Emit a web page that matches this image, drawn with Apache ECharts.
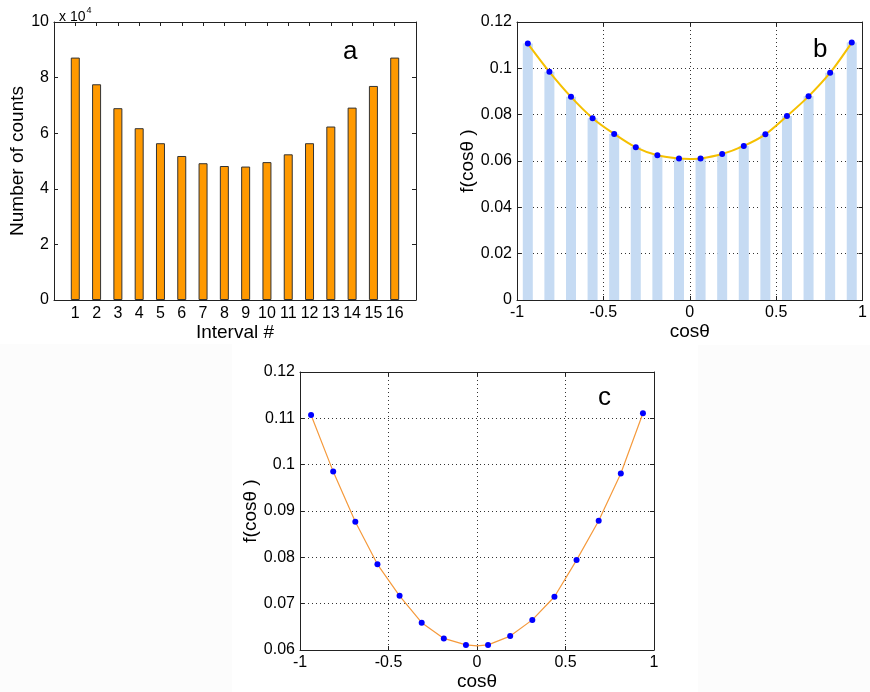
<!DOCTYPE html>
<html>
<head>
<meta charset="utf-8">
<script src="https://cdn.jsdelivr.net/npm/echarts@6/dist/echarts.min.js"></script>
<style>html,body{margin:0;padding:0;background:#fff;}#main{width:870px;height:692px;}</style>
</head>
<body>
<div id="main"></div>
<script>
// Panel a: counts per interval
const intervals = [1,2,3,4,5,6,7,8,9,10,11,12,13,14,15,16];
const counts = [87200, 77600, 69000, 61800, 56400, 51800, 49200, 48200, 48000, 49600, 52400, 56400, 62400, 69200, 77000, 87200];
// Panels b, c: normalized distribution
const cosCenters = [-0.9375,-0.8125,-0.6875,-0.5625,-0.4375,-0.3125,-0.1875,-0.0625,0.0625,0.1875,0.3125,0.4375,0.5625,0.6875,0.8125,0.9375];
const fValues = [0.1107,0.0985,0.0877,0.0785,0.0717,0.0659,0.0625,0.0611,0.0611,0.0630,0.0665,0.0715,0.0794,0.0879,0.0981,0.1111];
// fitted curve
const fitCos = [-0.9375,-0.8125,-0.6875,-0.5625,-0.4375,-0.3125,-0.1875,-0.0625,0,0.0625,0.1875,0.3125,0.4375,0.5625,0.6875,0.8125,0.9375];
const fitF = [0.1107,0.0985,0.0877,0.0785,0.0717,0.0659,0.0625,0.0611,0.0609,0.0611,0.0630,0.0665,0.0715,0.0794,0.0879,0.0981,0.1111];

const FONT = 'Liberation Sans, Arial, Helvetica, sans-serif';
const axisCol = '#222';
const tickFont = {fontFamily: FONT, fontSize: 16, color: '#000'};
const nameFont = {fontFamily: FONT, fontSize: 19, color: '#000'};

function pairs(xs, ys){ return xs.map((x,i)=>[x, ys[i]]); }

function boxAxis(grid, pos, min, max, interval){
  return {
    type: 'value', gridIndex: grid, position: pos, min: min, max: max, interval: interval,
    axisLine: {show: true, onZero: false, lineStyle: {color: axisCol, width: 1}},
    axisTick: {show: true, inside: true, length: 4, lineStyle: {color: axisCol}},
    axisLabel: {show: false},
    splitLine: {show: false}
  };
}

const gridLineStyle = {show: true, lineStyle: {type: [1, 3], color: '#333', width: 1}};

const option = {
  backgroundColor: '#fff',
  animation: false,
  graphic: [
    {type: 'rect', z: -10, silent: true, shape: {x: 0, y: 344, width: 232, height: 348}, style: {fill: '#fcfcfc'}},
    {type: 'rect', z: -10, silent: true, shape: {x: 698, y: 345, width: 172, height: 347}, style: {fill: '#fcfcfc'}}
  ],
  title: [
    {text: 'a', left: 338, top: 34, textStyle: {fontFamily: FONT, fontSize: 26, fontWeight: 'normal', color: '#000'}},
    {text: 'b', left: 808, top: 32, textStyle: {fontFamily: FONT, fontSize: 26, fontWeight: 'normal', color: '#000'}},
    {text: 'c', left: 593, top: 380, textStyle: {fontFamily: FONT, fontSize: 26, fontWeight: 'normal', color: '#000'}},
    {text: '{m|x 10}{e|4}', left: 54, top: 1, textStyle: {fontWeight: 'normal', rich: {
      m: {fontFamily: FONT, fontSize: 14, fontWeight: 'normal', color: '#000', verticalAlign: 'bottom', lineHeight: 18},
      e: {fontFamily: FONT, fontSize: 9, fontWeight: 'normal', color: '#000', verticalAlign: 'top', lineHeight: 18, padding: [0,0,8,1]}
    }}}
  ],
  grid: [
    {left: 54, top: 22, width: 362, height: 278},
    {left: 517, top: 22, width: 352, height: 278},
    {left: 300, top: 372, width: 354, height: 278}
  ],
  xAxis: [
    {
      type: 'value', gridIndex: 0, position: 'bottom', min: 0, max: 17, interval: 1,
      name: 'Interval #', nameLocation: 'middle', nameGap: 21, nameTextStyle: nameFont,
      axisLine: {show: true, onZero: false, lineStyle: {color: axisCol}},
      axisTick: {show: true, inside: true, length: 4, lineStyle: {color: axisCol}},
      axisLabel: Object.assign({margin: 6, formatter: v => (v >= 1 && v <= 16) ? String(v) : ''}, tickFont),
      splitLine: {show: false}
    },
    boxAxis(0, 'top', 0, 17, 1),
    {
      type: 'value', gridIndex: 1, position: 'bottom', min: -1, max: 1, interval: 0.5,
      name: 'cosθ', nameLocation: 'middle', nameGap: 20, nameTextStyle: nameFont,
      axisLine: {show: true, onZero: false, lineStyle: {color: axisCol}},
      axisTick: {show: true, inside: true, length: 4, lineStyle: {color: axisCol}},
      axisLabel: Object.assign({margin: 5}, tickFont),
      splitLine: gridLineStyle
    },
    boxAxis(1, 'top', -1, 1, 0.5),
    {
      type: 'value', gridIndex: 2, position: 'bottom', min: -1, max: 1, interval: 0.5,
      name: 'cosθ', nameLocation: 'middle', nameGap: 20, nameTextStyle: nameFont,
      axisLine: {show: true, onZero: false, lineStyle: {color: axisCol}},
      axisTick: {show: true, inside: true, length: 4, lineStyle: {color: axisCol}},
      axisLabel: Object.assign({margin: 5}, tickFont),
      splitLine: gridLineStyle
    },
    boxAxis(2, 'top', -1, 1, 0.5)
  ],
  yAxis: [
    {
      type: 'value', gridIndex: 0, position: 'left', min: 0, max: 100000, interval: 20000,
      name: 'Number of counts', nameLocation: 'middle', nameGap: 26, nameTextStyle: nameFont,
      axisLine: {show: true, onZero: false, lineStyle: {color: axisCol}},
      axisTick: {show: true, inside: true, length: 4, lineStyle: {color: axisCol}},
      axisLabel: Object.assign({margin: 5, formatter: v => String(Math.round(v / 10000))}, tickFont),
      splitLine: {show: false}
    },
    boxAxis(0, 'right', 0, 100000, 20000),
    {
      type: 'value', gridIndex: 1, position: 'left', min: 0, max: 0.12, interval: 0.02,
      name: 'f(cosθ )', nameLocation: 'middle', nameGap: 37, nameTextStyle: nameFont,
      axisLine: {show: true, onZero: false, lineStyle: {color: axisCol}},
      axisTick: {show: true, inside: true, length: 4, lineStyle: {color: axisCol}},
      axisLabel: Object.assign({margin: 5}, tickFont),
      splitLine: gridLineStyle
    },
    boxAxis(1, 'right', 0, 0.12, 0.02),
    {
      type: 'value', gridIndex: 2, position: 'left', min: 0.06, max: 0.12, interval: 0.01,
      name: 'f(cosθ )', nameLocation: 'middle', nameGap: 38, nameTextStyle: nameFont,
      axisLine: {show: true, onZero: false, lineStyle: {color: axisCol}},
      axisTick: {show: true, inside: true, length: 4, lineStyle: {color: axisCol}},
      axisLabel: Object.assign({margin: 5}, tickFont),
      splitLine: gridLineStyle
    },
    boxAxis(2, 'right', 0.06, 0.12, 0.01)
  ],
  series: [
    {
      type: 'bar', xAxisIndex: 0, yAxisIndex: 0, barWidth: 9,
      data: pairs(intervals, counts),
      itemStyle: {color: '#ff9900', borderColor: '#333', borderWidth: 1}
    },
    {
      type: 'bar', xAxisIndex: 2, yAxisIndex: 2, barWidth: 10,
      data: pairs(cosCenters, fValues),
      itemStyle: {color: '#c6dbf3'}
    },
    {
      type: 'line', xAxisIndex: 2, yAxisIndex: 2, smooth: 0.3, showSymbol: false,
      data: pairs(fitCos, fitF),
      lineStyle: {color: '#f5c000', width: 2}, z: 3
    },
    {
      type: 'scatter', xAxisIndex: 2, yAxisIndex: 2, symbolSize: 6,
      data: pairs(cosCenters, fValues),
      itemStyle: {color: '#0000ff', opacity: 1}, z: 4
    },
    {
      type: 'line', xAxisIndex: 4, yAxisIndex: 4, showSymbol: false,
      data: pairs(fitCos, fitF),
      lineStyle: {color: '#f59a3c', width: 1.2}, z: 3
    },
    {
      type: 'scatter', xAxisIndex: 4, yAxisIndex: 4, symbolSize: 6,
      data: pairs(cosCenters, fValues),
      itemStyle: {color: '#0000ff', opacity: 1}, z: 4
    }
  ]
};

const chart = echarts.init(document.getElementById('main'), null, {renderer: 'canvas'});
chart.setOption(option);
</script>
</body>
</html>
